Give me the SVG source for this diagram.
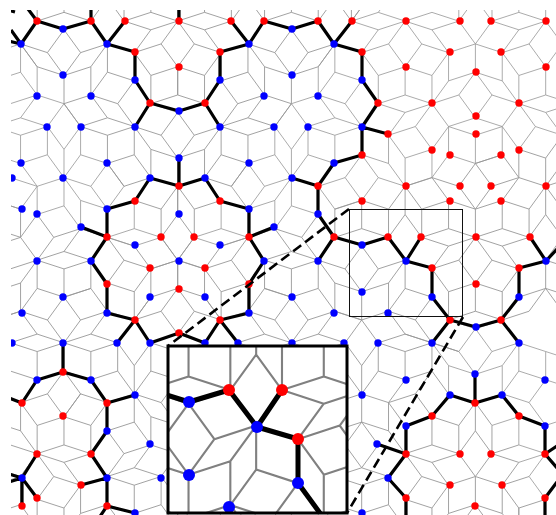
<svg xmlns="http://www.w3.org/2000/svg" width="556" height="515" viewBox="0 0 556 515">
<style>.r{fill:#f00}.b{fill:#00f}.k{fill:none;stroke:#000;stroke-linejoin:round}</style>
<defs>
<clipPath id="mc"><rect x="11" y="10" width="545" height="505"/></clipPath>
<clipPath id="ic"><rect x="168" y="346" width="179" height="167"/></clipPath>
<path id="w" fill="none" d="M0 0L16.46 -22.65M365.06 -237.2L381.52 -214.55M365.06 -191.9L381.52 -214.55M16.46 -22.65L43.09 -14M16.46 -22.65L43.09 -31.3M43.09 -14L69.72 -22.65M43.09 -31.3L69.72 -22.65M43.09 -31.3L43.09 -59.3M43.09 -59.3L69.72 -50.65M69.72 -50.65L69.72 -22.65M69.72 -22.65L96.35 -31.3M69.72 -50.65L96.35 -59.3M96.35 -59.3L96.35 -31.3M69.72 -50.65L53.26 -73.3M53.26 -73.3L69.72 -95.95M69.72 -95.95L96.35 -104.6M96.35 -104.6L96.35 -132.6M96.35 -104.6L112.81 -81.95M96.35 -132.6L112.81 -109.95M112.81 -81.95L112.81 -109.95M112.81 -81.95L96.35 -59.3M86.18 -73.3L69.72 -50.65M86.18 -73.3L112.81 -81.95M86.18 -73.3L69.72 -95.95M112.81 -81.95L112.81 -53.95M112.81 -53.95L96.35 -31.3M112.81 -53.95L139.44 -45.3M112.81 -81.95L139.44 -73.3M139.44 -73.3L139.44 -45.3M139.44 -73.3L155.9 -50.65M139.44 -73.3L166.07 -81.95M139.44 -73.3L155.9 -95.95M155.9 -50.65L182.53 -59.3M166.07 -81.95L182.53 -59.3M166.07 -81.95L182.53 -104.6M155.9 -95.95L182.53 -104.6M112.81 -81.95L129.27 -104.6M129.27 -104.6L155.9 -95.95M129.27 -104.6L129.27 -132.6M129.27 -132.6L155.9 -123.95M155.9 -123.95L155.9 -95.95M155.9 -123.95L182.53 -132.6M182.53 -132.6L182.53 -104.6M129.27 -132.6L155.9 -141.25M155.9 -141.25L182.53 -132.6M112.81 -109.95L129.27 -132.6M112.81 -155.25L129.27 -132.6M112.81 -155.25L96.35 -132.6M112.81 -155.25L139.44 -163.9M139.44 -163.9L155.9 -141.25M139.44 -163.9L166.07 -155.25M166.07 -155.25L182.53 -132.6M139.44 -191.9L139.44 -163.9M139.44 -191.9L155.9 -214.55M155.9 -214.55L155.9 -186.55M155.9 -186.55L139.44 -163.9M155.9 -186.55L182.53 -177.9M182.53 -177.9L166.07 -155.25M198.99 -155.25L182.53 -177.9M198.99 -155.25L182.53 -132.6M198.99 -155.25L225.62 -146.6M198.99 -155.25L225.62 -163.9M198.99 -155.25L198.99 -183.25M198.99 -183.25L182.53 -205.9M182.53 -177.9L182.53 -205.9M198.99 -183.25L225.62 -191.9M182.53 -205.9L209.16 -214.55M209.16 -214.55L225.62 -191.9M225.62 -191.9L225.62 -163.9M225.62 -163.9L252.25 -155.25M225.62 -146.6L252.25 -155.25M182.53 -132.6L209.16 -123.95M209.16 -123.95L225.62 -146.6M209.16 -123.95L235.79 -132.6M235.79 -132.6L252.25 -155.25M209.16 -123.95L209.16 -95.95M182.53 -104.6L209.16 -95.95M182.53 -104.6L198.99 -81.95M209.16 -95.95L225.62 -73.3M198.99 -81.95L225.62 -73.3M182.53 -59.3L198.99 -81.95M209.16 -123.95L225.62 -101.3M225.62 -101.3L225.62 -73.3M225.62 -101.3L252.25 -109.95M235.79 -132.6L252.25 -109.95M252.25 -109.95L252.25 -81.95M225.62 -73.3L252.25 -81.95M252.25 -109.95L268.71 -132.6M252.25 -155.25L268.71 -132.6M268.71 -132.6L268.71 -104.6M268.71 -104.6L252.25 -81.95M268.71 -104.6L295.34 -95.95M268.71 -132.6L295.34 -123.95M295.34 -123.95L295.34 -95.95M295.34 -123.95L321.97 -132.6M295.34 -95.95L321.97 -104.6M321.97 -132.6L321.97 -104.6M321.97 -132.6L338.43 -109.95M295.34 -141.25L268.71 -132.6M295.34 -141.25L321.97 -132.6M252.25 -155.25L278.88 -163.9M278.88 -163.9L295.34 -141.25M311.8 -163.9L295.34 -141.25M295.34 -186.55L278.88 -163.9M295.34 -186.55L311.8 -163.9M252.25 -155.25L268.71 -177.9M268.71 -177.9L295.34 -186.55M252.25 -155.25L252.25 -183.25M252.25 -183.25L225.62 -191.9M252.25 -183.25L268.71 -205.9M268.71 -205.9L268.71 -177.9M242.08 -214.55L268.71 -205.9M242.08 -214.55L225.62 -191.9M225.62 -237.2L242.08 -214.55M225.62 -237.2L209.16 -214.55M225.62 -237.2L252.25 -228.55M225.62 -237.2L252.25 -245.85M172.36 -237.2L155.9 -214.55M155.9 -214.55L182.53 -205.9M252.25 -228.55L268.71 -205.9M252.25 -228.55L278.88 -237.2M252.25 -245.85L278.88 -237.2M278.88 -237.2L295.34 -214.55M268.71 -205.9L295.34 -214.55M295.34 -214.55L311.8 -237.2M295.34 -214.55L321.97 -205.9M295.34 -214.55L295.34 -186.55M321.97 -205.9L321.97 -177.9M295.34 -186.55L321.97 -177.9M321.97 -177.9L338.43 -155.25M311.8 -163.9L338.43 -155.25M338.43 -155.25L321.97 -132.6M321.97 -205.9L338.43 -183.25M338.43 -183.25L338.43 -155.25M338.43 -183.25L365.06 -191.9M321.97 -205.9L348.6 -214.55M348.6 -214.55L365.06 -191.9M348.6 -214.55L365.06 -237.2M338.43 -228.55L321.97 -205.9M338.43 -228.55L311.8 -237.2M338.43 -245.85L311.8 -237.2M338.43 -228.55L365.06 -237.2M338.43 -245.85L365.06 -237.2M365.06 -191.9L365.06 -163.9M338.43 -155.25L365.06 -163.9M338.43 -155.25L365.06 -146.6M338.43 -155.25L354.89 -132.6M354.89 -132.6L338.43 -109.95M365.06 -146.6L381.52 -123.95M354.89 -132.6L381.52 -123.95M365.06 -163.9L391.69 -155.25M365.06 -146.6L391.69 -155.25M278.88 -237.2L278.88 -265.2M278.88 -237.2L295.34 -259.85M311.8 -237.2L295.34 -259.85M311.8 -237.2L311.8 -265.2M365.06 -237.2L365.06 -265.2M338.43 -245.85L338.43 -273.85"/>
<path id="w2" fill="none" d="M225.62 -237.2L198.99 -228.55M225.62 -237.2L198.99 -245.85M198.99 -228.55L182.53 -205.9M198.99 -228.55L172.36 -237.2M198.99 -245.85L172.36 -237.2M172.36 -237.2L188.82 -259.85M198.99 -245.85L215.45 -268.5M188.82 -259.85L215.45 -268.5"/>
<path id="x" fill="none" d="M295.34 141.25L295.34 113.25L278.88 90.6M268.71 104.6L295.34 113.25M268.71 104.6L252.25 81.95M268.71 104.6L268.71 132.6M295.34 113.25L311.8 90.6L295.34 67.95M311.8 90.6L338.43 81.95M278.88 90.6L295.34 67.95L321.97 59.3M295.34 67.95L268.71 59.3M295.34 113.25L321.97 104.6L338.43 81.95M321.97 104.6L321.97 132.6L295.34 141.25M338.43 81.95L338.43 109.95L321.97 132.6M338.43 81.95L365.06 90.6L365.06 118.6L338.43 109.95M365.06 118.6L348.6 141.25L321.97 132.6M348.6 141.25L365.06 163.9M321.97 132.6L338.43 155.25L365.06 163.9M338.43 155.25L311.8 163.9M338.43 155.25L338.43 183.25L365.06 191.9L365.06 163.9M365.06 191.9L348.6 214.55L365.06 237.2M338.43 200.55L365.06 191.9M338.43 245.85L338.43 273.85M365.06 163.9L391.69 155.25M365.06 118.6L391.69 127.25M365.06 90.6L391.69 99.25"/>
<g id="f"><use href="#w"/><use href="#w" transform="rotate(72)"/><use href="#w" transform="rotate(144)"/><use href="#w" transform="rotate(216)"/><use href="#w" transform="rotate(288)"/></g>
<g id="f2"><use href="#w2"/><use href="#w2" transform="rotate(288)"/></g>
<g id="grid" transform="translate(177.7 260.2) scale(1.008)"><use href="#f"/><use href="#f" transform="scale(-1 1)"/><use href="#f2"/><use href="#f2" transform="scale(-1 1)"/><use href="#x"/></g>
</defs>
<rect width="556" height="515" fill="#fff"/>
<g clip-path="url(#mc)">
<g id="tiling"><use href="#grid" stroke="#969696" stroke-width="0.8"/></g>
<g id="connectors"><path class="k" stroke-width="3.2" d="M28 9L37 21L63 29L91 21L107 44L125 21M91 21V9M37 21L21 44M11 30L21 44L8 41M8 10L15 12M107 44L135 52L135 80L150 103L135 127M150 103L179 111L205 103L220 80L220 52L249 44L231 21M249 44L264 21L292 29L318 21L334 44L352 21M334 44L362 52L362 80L378 103L362 127L388 134M362 127L362 155L334 163L318 186L292 178M205 103L220 127M179 9V21M179 158V186M150 178L179 186L205 178L220 201L249 209L249 237L274 227M150 178L135 201L107 209L107 237L81 227M107 237L91 261L107 284L107 313L135 320L117 343M135 320L150 343L179 333L205 343M249 237L264 261L249 284L249 313L220 320L205 343M220 320L238 343M318 186L318 214L334 237L318 261M334 237L362 245L388 237L406 261L421 237M406 261L432 268L432 297L450 320L476 327L501 320L519 297L519 268L546 261L530 237M546 261L557 249M450 320L432 343M501 320L519 343M63 343V372M22 403L37 380L63 372L91 380L107 403L135 395M22 403L9 398M107 403L107 431L91 454L107 478L81 485M107 478L107 506L135 513M107 506L99 518M37 454L22 478L37 498M22 478V506M22 478L9 474M22 478L9 482M475 374V403M450 395L475 403L502 395M450 395L432 416L406 426L406 454L377 444M406 454L388 478L406 498V518M502 395L519 416L545 426V454L557 446M545 454L557 468M545 498V518M545 498L557 482"/></g>
<g id="nodes">
<g id="r1"><circle class="r" cx="37" cy="21" r="3.7"/></g><g id="r2"><circle class="r" cx="91" cy="21" r="3.7"/></g><g id="r3"><circle class="r" cx="125" cy="21" r="3.7"/></g><g id="r4"><circle class="r" cx="179" cy="21" r="3.7"/></g><g id="r5"><circle class="r" cx="231" cy="21" r="3.7"/></g><g id="r6"><circle class="r" cx="264" cy="21" r="3.7"/></g><g id="r7"><circle class="r" cx="318" cy="21" r="3.7"/></g><g id="r8"><circle class="r" cx="352" cy="21" r="3.7"/></g><g id="r9"><circle class="r" cx="406" cy="21" r="3.7"/></g><g id="r10"><circle class="r" cx="460" cy="21" r="3.7"/></g><g id="r11"><circle class="r" cx="491" cy="21" r="3.7"/></g><g id="r12"><circle class="r" cx="546" cy="21" r="3.7"/></g>
<g id="r13"><circle class="r" cx="135" cy="52" r="3.7"/></g><g id="r14"><circle class="r" cx="220" cy="52" r="3.7"/></g><g id="r15"><circle class="r" cx="362" cy="52" r="3.7"/></g><g id="r16"><circle class="r" cx="450" cy="52" r="3.7"/></g><g id="r17"><circle class="r" cx="501" cy="52" r="3.7"/></g><g id="r18"><circle class="r" cx="179" cy="67" r="3.7"/></g><g id="r19"><circle class="r" cx="406" cy="67" r="3.7"/></g><g id="r20"><circle class="r" cx="546" cy="67" r="3.7"/></g><g id="r21"><circle class="r" cx="476" cy="72" r="3.7"/></g>
<g id="r22"><circle class="r" cx="150" cy="103" r="3.7"/></g><g id="r23"><circle class="r" cx="205" cy="103" r="3.7"/></g><g id="r24"><circle class="r" cx="378" cy="103" r="3.7"/></g><g id="r25"><circle class="r" cx="432" cy="103" r="3.7"/></g><g id="r26"><circle class="r" cx="519" cy="103" r="3.7"/></g><g id="r27"><circle class="r" cx="476" cy="116" r="3.7"/></g><g id="r28"><circle class="r" cx="388" cy="134" r="3.7"/></g><g id="r29"><circle class="r" cx="476" cy="134" r="3.7"/></g><g id="r30"><circle class="r" cx="362" cy="155" r="3.7"/></g><g id="r31"><circle class="r" cx="432" cy="150" r="3.7"/></g><g id="r32"><circle class="r" cx="519" cy="150" r="3.7"/></g><g id="r33"><circle class="r" cx="450" cy="155" r="3.7"/></g><g id="r34"><circle class="r" cx="501" cy="155" r="3.7"/></g>
<g id="r35"><circle class="r" cx="179" cy="186" r="3.7"/></g><g id="r36"><circle class="r" cx="318" cy="186" r="3.7"/></g><g id="r37"><circle class="r" cx="406" cy="186" r="3.7"/></g><g id="r38"><circle class="r" cx="460" cy="186" r="3.7"/></g><g id="r39"><circle class="r" cx="491" cy="186" r="3.7"/></g><g id="r40"><circle class="r" cx="546" cy="186" r="3.7"/></g><g id="r41"><circle class="r" cx="135" cy="201" r="3.7"/></g><g id="r42"><circle class="r" cx="220" cy="201" r="3.7"/></g><g id="r43"><circle class="r" cx="362" cy="201" r="3.7"/></g><g id="r44"><circle class="r" cx="450" cy="201" r="3.7"/></g><g id="r45"><circle class="r" cx="501" cy="201" r="3.7"/></g>
<g id="r46"><circle class="r" cx="107" cy="237" r="3.7"/></g><g id="r47"><circle class="r" cx="161" cy="237" r="3.7"/></g><g id="r48"><circle class="r" cx="194" cy="237" r="3.7"/></g><g id="r49"><circle class="r" cx="249" cy="237" r="3.7"/></g><g id="r50"><circle class="r" cx="334" cy="237" r="3.7"/></g><g id="r51"><circle class="r" cx="388" cy="237" r="3.7"/></g><g id="r52"><circle class="r" cx="421" cy="237" r="3.7"/></g><g id="r53"><circle class="r" cx="476" cy="237" r="3.7"/></g><g id="r54"><circle class="r" cx="530" cy="237" r="3.7"/></g><g id="r55"><circle class="r" cx="150" cy="268" r="3.7"/></g><g id="r56"><circle class="r" cx="205" cy="268" r="3.7"/></g><g id="r57"><circle class="r" cx="432" cy="268" r="3.7"/></g><g id="r58"><circle class="r" cx="519" cy="268" r="3.7"/></g><g id="r59"><circle class="r" cx="107" cy="284" r="3.7"/></g><g id="r60"><circle class="r" cx="179" cy="289" r="3.7"/></g><g id="r61"><circle class="r" cx="249" cy="284" r="3.7"/></g><g id="r62"><circle class="r" cx="476" cy="284" r="3.7"/></g>
<g id="r63"><circle class="r" cx="135" cy="320" r="3.7"/></g><g id="r64"><circle class="r" cx="220" cy="320" r="3.7"/></g><g id="r65"><circle class="r" cx="450" cy="320" r="3.7"/></g><g id="r66"><circle class="r" cx="501" cy="320" r="3.7"/></g><g id="r67"><circle class="r" cx="179" cy="333" r="3.7"/></g>
<g id="r68"><circle class="r" cx="63" cy="372" r="3.7"/></g><g id="r69"><circle class="r" cx="22" cy="403" r="3.7"/></g><g id="r70"><circle class="r" cx="107" cy="403" r="3.7"/></g><g id="r71"><circle class="r" cx="475" cy="403" r="3.7"/></g><g id="r72"><circle class="r" cx="63" cy="416" r="3.7"/></g><g id="r73"><circle class="r" cx="432" cy="416" r="3.7"/></g><g id="r74"><circle class="r" cx="519" cy="416" r="3.7"/></g><g id="r75"><circle class="r" cx="37" cy="454" r="3.7"/></g><g id="r76"><circle class="r" cx="91" cy="454" r="3.7"/></g><g id="r77"><circle class="r" cx="406" cy="454" r="3.7"/></g><g id="r78"><circle class="r" cx="460" cy="454" r="3.7"/></g><g id="r79"><circle class="r" cx="491" cy="454" r="3.7"/></g><g id="r80"><circle class="r" cx="545" cy="454" r="3.7"/></g><g id="r81"><circle class="r" cx="81" cy="485" r="3.7"/></g><g id="r82"><circle class="r" cx="450" cy="485" r="3.7"/></g><g id="r83"><circle class="r" cx="502" cy="485" r="3.7"/></g><g id="r84"><circle class="r" cx="37" cy="498" r="3.7"/></g><g id="r85"><circle class="r" cx="406" cy="498" r="3.7"/></g><g id="r86"><circle class="r" cx="545" cy="498" r="3.7"/></g><g id="r87"><circle class="r" cx="22" cy="506" r="3.7"/></g><g id="r88"><circle class="r" cx="107" cy="506" r="3.7"/></g><g id="r89"><circle class="r" cx="475" cy="506" r="3.7"/></g>
<g id="b1"><circle class="b" cx="21" cy="44" r="3.7"/></g><g id="b2"><circle class="b" cx="63" cy="29" r="3.7"/></g><g id="b3"><circle class="b" cx="107" cy="44" r="3.7"/></g><g id="b4"><circle class="b" cx="249" cy="44" r="3.7"/></g><g id="b5"><circle class="b" cx="292" cy="29" r="3.7"/></g><g id="b6"><circle class="b" cx="334" cy="44" r="3.7"/></g><g id="b7"><circle class="b" cx="63" cy="75" r="3.7"/></g><g id="b8"><circle class="b" cx="135" cy="80" r="3.7"/></g><g id="b9"><circle class="b" cx="220" cy="80" r="3.7"/></g><g id="b10"><circle class="b" cx="292" cy="75" r="3.7"/></g><g id="b11"><circle class="b" cx="362" cy="80" r="3.7"/></g><g id="b12"><circle class="b" cx="37" cy="96" r="3.7"/></g><g id="b13"><circle class="b" cx="91" cy="96" r="3.7"/></g><g id="b14"><circle class="b" cx="264" cy="96" r="3.7"/></g><g id="b15"><circle class="b" cx="318" cy="96" r="3.7"/></g><g id="b16"><circle class="b" cx="179" cy="111" r="3.7"/></g><g id="b17"><circle class="b" cx="47" cy="127" r="3.7"/></g><g id="b18"><circle class="b" cx="81" cy="127" r="3.7"/></g><g id="b19"><circle class="b" cx="135" cy="127" r="3.7"/></g><g id="b20"><circle class="b" cx="220" cy="127" r="3.7"/></g><g id="b21"><circle class="b" cx="274" cy="127" r="3.7"/></g><g id="b22"><circle class="b" cx="308" cy="127" r="3.7"/></g><g id="b23"><circle class="b" cx="362" cy="127" r="3.7"/></g><g id="b24"><circle class="b" cx="179" cy="158" r="3.7"/></g><g id="b25"><circle class="b" cx="21" cy="163" r="3.7"/></g><g id="b26"><circle class="b" cx="107" cy="163" r="3.7"/></g><g id="b27"><circle class="b" cx="249" cy="163" r="3.7"/></g><g id="b28"><circle class="b" cx="334" cy="163" r="3.7"/></g><g id="b29"><circle class="b" cx="12" cy="178" r="3.7"/></g><g id="b30"><circle class="b" cx="63" cy="178" r="3.7"/></g><g id="b31"><circle class="b" cx="150" cy="178" r="3.7"/></g><g id="b32"><circle class="b" cx="205" cy="178" r="3.7"/></g><g id="b33"><circle class="b" cx="292" cy="178" r="3.7"/></g><g id="b34"><circle class="b" cx="22" cy="209" r="3.7"/></g><g id="b35"><circle class="b" cx="37" cy="214" r="3.7"/></g><g id="b36"><circle class="b" cx="107" cy="209" r="3.7"/></g><g id="b37"><circle class="b" cx="179" cy="214" r="3.7"/></g><g id="b38"><circle class="b" cx="249" cy="209" r="3.7"/></g><g id="b39"><circle class="b" cx="318" cy="214" r="3.7"/></g><g id="b40"><circle class="b" cx="81" cy="227" r="3.7"/></g><g id="b41"><circle class="b" cx="274" cy="227" r="3.7"/></g><g id="b42"><circle class="b" cx="135" cy="245" r="3.7"/></g><g id="b43"><circle class="b" cx="220" cy="245" r="3.7"/></g><g id="b44"><circle class="b" cx="362" cy="245" r="3.7"/></g><g id="b45"><circle class="b" cx="37" cy="261" r="3.7"/></g><g id="b46"><circle class="b" cx="91" cy="261" r="3.7"/></g><g id="b47"><circle class="b" cx="179" cy="261" r="3.7"/></g><g id="b48"><circle class="b" cx="264" cy="261" r="3.7"/></g><g id="b49"><circle class="b" cx="318" cy="261" r="3.7"/></g><g id="b50"><circle class="b" cx="406" cy="261" r="3.7"/></g><g id="b51"><circle class="b" cx="546" cy="261" r="3.7"/></g><g id="b52"><circle class="b" cx="63" cy="297" r="3.7"/></g><g id="b53"><circle class="b" cx="150" cy="297" r="3.7"/></g><g id="b54"><circle class="b" cx="205" cy="297" r="3.7"/></g><g id="b55"><circle class="b" cx="292" cy="297" r="3.7"/></g><g id="b56"><circle class="b" cx="362" cy="292" r="3.7"/></g><g id="b57"><circle class="b" cx="432" cy="297" r="3.7"/></g><g id="b58"><circle class="b" cx="519" cy="297" r="3.7"/></g><g id="b59"><circle class="b" cx="22" cy="313" r="3.7"/></g><g id="b60"><circle class="b" cx="107" cy="313" r="3.7"/></g><g id="b61"><circle class="b" cx="249" cy="313" r="3.7"/></g><g id="b62"><circle class="b" cx="334" cy="313" r="3.7"/></g><g id="b63"><circle class="b" cx="388" cy="313" r="3.7"/></g><g id="b64"><circle class="b" cx="476" cy="327" r="3.7"/></g><g id="b65"><circle class="b" cx="12" cy="343" r="3.7"/></g><g id="b66"><circle class="b" cx="63" cy="343" r="3.7"/></g><g id="b67"><circle class="b" cx="117" cy="343" r="3.7"/></g><g id="b68"><circle class="b" cx="150" cy="343" r="3.7"/></g><g id="b69"><circle class="b" cx="205" cy="343" r="3.7"/></g><g id="b70"><circle class="b" cx="238" cy="343" r="3.7"/></g><g id="b71"><circle class="b" cx="292" cy="343" r="3.7"/></g><g id="b72"><circle class="b" cx="344" cy="343" r="3.7"/></g><g id="b73"><circle class="b" cx="378" cy="343" r="3.7"/></g><g id="b74"><circle class="b" cx="432" cy="343" r="3.7"/></g><g id="b75"><circle class="b" cx="519" cy="343" r="3.7"/></g><g id="b76"><circle class="b" cx="37" cy="380" r="3.7"/></g><g id="b77"><circle class="b" cx="91" cy="380" r="3.7"/></g><g id="b78"><circle class="b" cx="475" cy="374" r="3.7"/></g><g id="b79"><circle class="b" cx="406" cy="380" r="3.7"/></g><g id="b80"><circle class="b" cx="545" cy="380" r="3.7"/></g><g id="b81"><circle class="b" cx="135" cy="395" r="3.7"/></g><g id="b82"><circle class="b" cx="450" cy="395" r="3.7"/></g><g id="b83"><circle class="b" cx="502" cy="395" r="3.7"/></g><g id="b84"><circle class="b" cx="362" cy="395" r="3.7"/></g><g id="b85"><circle class="b" cx="107" cy="431" r="3.7"/></g><g id="b86"><circle class="b" cx="406" cy="426" r="3.7"/></g><g id="b87"><circle class="b" cx="545" cy="426" r="3.7"/></g><g id="b88"><circle class="b" cx="150" cy="444" r="3.7"/></g><g id="b89"><circle class="b" cx="377" cy="444" r="3.7"/></g><g id="b90"><circle class="b" cx="22" cy="478" r="3.7"/></g><g id="b91"><circle class="b" cx="107" cy="478" r="3.7"/></g><g id="b92"><circle class="b" cx="161" cy="478" r="3.7"/></g><g id="b93"><circle class="b" cx="388" cy="478" r="3.7"/></g><g id="b94"><circle class="b" cx="135" cy="513" r="3.7"/></g><g id="b95"><circle class="b" cx="362" cy="513" r="3.7"/></g>
</g>
</g>
<g id="zoom-box"><rect x="349.5" y="209.5" width="113" height="107" fill="none" stroke="#111" stroke-width="1"/><path d="M349 209L168 346M463 317L347 513" fill="none" stroke="#000" stroke-width="2.6" stroke-dasharray="10 5"/></g>
<g id="inset">
<rect x="168" y="346" width="179" height="167" fill="#fff"/>
<g clip-path="url(#ic)">
<g transform="translate(-374.6 20.5) scale(1.557)"><use href="#grid" stroke="#808080" stroke-width="1.35"/></g>
<path class="k" stroke-width="5" d="M160 393L189 402L229 390L257 427L282 390M257 427L298 439L298 483L325 520"/>
<g id="i1"><circle class="r" cx="229" cy="390" r="6"/></g><g id="i2"><circle class="r" cx="282" cy="390" r="6"/></g><g id="i3"><circle class="r" cx="298" cy="439" r="6"/></g><g id="i4"><circle class="b" cx="189" cy="402" r="6"/></g><g id="i5"><circle class="b" cx="257" cy="427" r="6"/></g><g id="i6"><circle class="b" cx="189" cy="475" r="6"/></g><g id="i7"><circle class="b" cx="298" cy="483" r="6"/></g><g id="i8"><circle class="b" cx="229" cy="507" r="6"/></g>
</g>
<rect x="168" y="346" width="179" height="167" fill="none" stroke="#000" stroke-width="3"/>
</g>
</svg>
